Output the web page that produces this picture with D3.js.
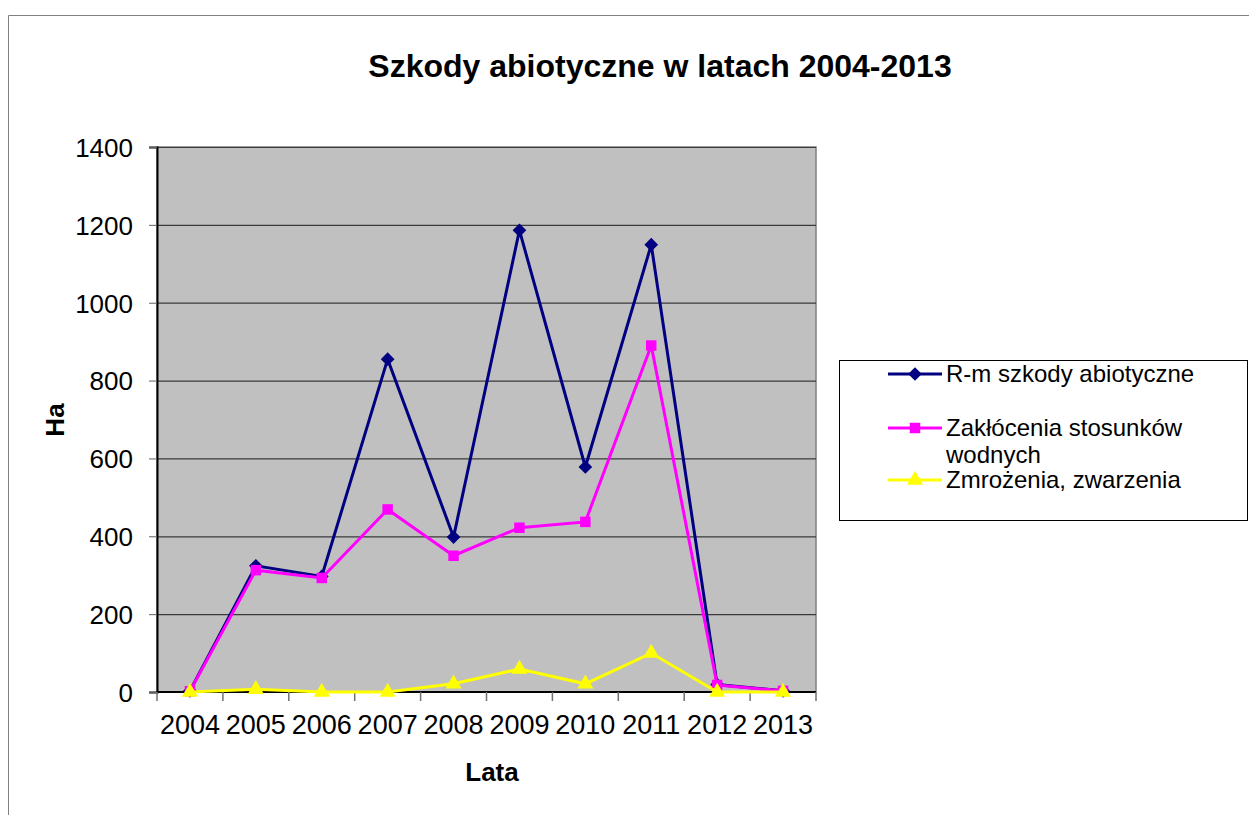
<!DOCTYPE html>
<html>
<head>
<meta charset="utf-8">
<script src="https://cdn.jsdelivr.net/npm/d3@7"></script>
<style>
  body { margin: 0; background: #fff; }
  svg { display: block; font-family: "Liberation Sans", Arial, sans-serif; }
</style>
</head>
<body>
<div id="chart"></div>
<script>
// data
const years = ["2004", "2005", "2006", "2007", "2008", "2009", "2010", "2011", "2012", "2013"];
const razem = [3, 324, 297, 855, 398, 1186, 578, 1149, 19, 3];
const wodne = [2, 313, 293, 469, 350, 422, 437, 890, 18, 3];
const mrozy = [0, 7, 0, 0, 21, 59, 21, 100, 0, 0];
const seriesNames = ["R-m szkody abiotyczne", ["Zakłócenia stosunków", "wodnych"], "Zmrożenia, zwarzenia"];
const yTicks = [0, 200, 400, 600, 800, 1000, 1200, 1400];

const width = 1249, height = 815;
const plot = { left: 157, right: 816, top: 147, bottom: 692 };

const svg = d3.select("#chart").append("svg")
    .attr("width", width)
    .attr("height", height);

// outer chart frame (cut off at right/bottom like the original)
svg.append("path")
    .attr("d", `M8.5,${height} L8.5,15.5 L${width},15.5`)
    .attr("fill", "none")
    .attr("stroke", "#808080")
    .attr("stroke-width", 1);

const x = d3.scaleBand()
    .domain(years)
    .range([plot.left, plot.right]);

const y = d3.scaleLinear()
    .domain([0, 1400])
    .range([plot.bottom, plot.top]);

// grey plot area
svg.append("rect")
    .attr("x", plot.left)
    .attr("y", plot.top)
    .attr("width", plot.right - plot.left)
    .attr("height", plot.bottom - plot.top)
    .attr("fill", "#c0c0c0")
    .attr("stroke", "#808080")
    .attr("stroke-width", 1.5);

// horizontal gridlines
svg.append("g")
    .selectAll("line")
    .data(yTicks.slice(1))
    .enter()
    .append("line")
    .attr("x1", plot.left)
    .attr("x2", plot.right)
    .attr("y1", d => y(d) + 0.5)
    .attr("y2", d => y(d) + 0.5)
    .attr("stroke", "#3a3a3a")
    .attr("stroke-width", 1.2);

// y axis
const yAxis = svg.append("g")
    .attr("transform", `translate(${plot.left},0)`)
    .call(d3.axisLeft(y).tickValues(yTicks).tickSize(8).tickPadding(16).tickFormat(d3.format("d")));
yAxis.select(".domain").attr("stroke", "#000").attr("stroke-width", 2);
yAxis.selectAll(".tick line").attr("stroke", "#606060");
yAxis.selectAll("text")
    .attr("fill", "#000")
    .style("font-size", "26px")
    .attr("dy", "0.36em");

// x axis (ticks on category boundaries)
const xAxis = svg.append("g")
    .attr("transform", `translate(0,${plot.bottom})`);
xAxis.append("line")
    .attr("x1", plot.left)
    .attr("x2", plot.right)
    .attr("y1", 0)
    .attr("y2", 0)
    .attr("stroke", "#000")
    .attr("stroke-width", 2);
xAxis.selectAll(".bnd")
    .data(years.concat(["end"]))
    .enter()
    .append("line")
    .attr("x1", (d, i) => plot.left + i * x.step())
    .attr("x2", (d, i) => plot.left + i * x.step())
    .attr("y1", 0)
    .attr("y2", 9)
    .attr("stroke", "#707070")
    .attr("stroke-width", 1.5);
xAxis.selectAll("text")
    .data(years)
    .enter()
    .append("text")
    .attr("x", d => x(d) + x.bandwidth() / 2)
    .attr("y", 42)
    .attr("text-anchor", "middle")
    .style("font-size", "27px")
    .text(d => d);

// series lines and markers
const line = d3.line()
    .x((d, i) => x(years[i]) + x.bandwidth() / 2)
    .y(d => y(d));

const series = [
    { values: razem, color: "#000080", symbol: d3.symbolDiamond2, size: 120 },
    { values: wodne, color: "#ff00ff", symbol: d3.symbolSquare2, size: 140 },
    { values: mrozy, color: "#ffff00", symbol: d3.symbolTriangle2, size: 185 }
];

series.forEach(s => {
    svg.append("path")
        .datum(s.values)
        .attr("d", line)
        .attr("fill", "none")
        .attr("stroke", s.color)
        .attr("stroke-width", 3);
    svg.append("g")
        .selectAll("path")
        .data(s.values)
        .enter()
        .append("path")
        .attr("transform", (d, i) => `translate(${x(years[i]) + x.bandwidth() / 2},${y(d)})`)
        .attr("d", d3.symbol().type(s.symbol).size(s.size))
        .attr("fill", s.color);
});

// titles
svg.append("text")
    .attr("x", 660)
    .attr("y", 77)
    .attr("text-anchor", "middle")
    .style("font-size", "32px")
    .style("font-weight", "bold")
    .text("Szkody abiotyczne w latach 2004-2013");

svg.append("text")
    .attr("x", 492)
    .attr("y", 781)
    .attr("text-anchor", "middle")
    .style("font-size", "26px")
    .style("font-weight", "bold")
    .text("Lata");

svg.append("text")
    .attr("transform", "translate(64,420) rotate(-90)")
    .attr("text-anchor", "middle")
    .style("font-size", "26px")
    .style("font-weight", "bold")
    .text("Ha");

// legend
const legend = svg.append("g");
legend.append("rect")
    .attr("x", 839.5)
    .attr("y", 360.5)
    .attr("width", 408)
    .attr("height", 160)
    .attr("fill", "#fff")
    .attr("stroke", "#000")
    .attr("stroke-width", 1);

const legendY = [374, 428, 480];
series.forEach((s, i) => {
    const g = legend.append("g").attr("transform", `translate(0,${legendY[i]})`);
    g.append("line")
        .attr("x1", 888)
        .attr("x2", 942)
        .attr("stroke", s.color)
        .attr("stroke-width", 3);
    g.append("path")
        .attr("transform", "translate(915,0)")
        .attr("d", d3.symbol().type(s.symbol).size(s.size))
        .attr("fill", s.color);
    const label = [].concat(seriesNames[i]);
    const t = g.append("text")
        .attr("x", 946)
        .attr("y", 8)
        .style("font-size", "24px");
    label.forEach((ln, k) => {
        t.append("tspan")
            .attr("x", 946)
            .attr("dy", k === 0 ? 0 : 27)
            .text(ln);
    });
});
</script>
</body>
</html>
